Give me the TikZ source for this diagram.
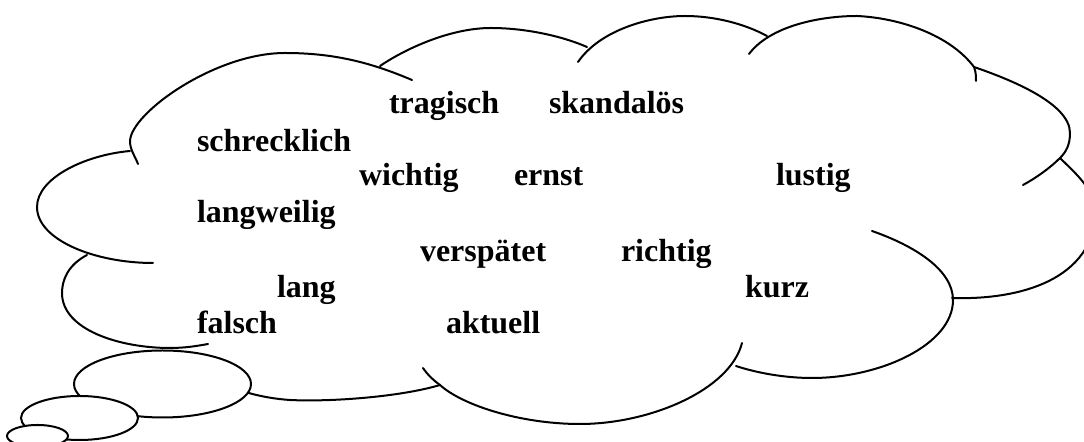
\documentclass[tikz,border=0pt]{standalone}
\usepackage{fontspec}
\setmainfont{Liberation Serif}
\usepackage{tikz}

\begin{document}
\begin{tikzpicture}[x=0.5pt, y=-0.5pt,
  every node/.style={font=\bfseries\fontsize{16}{19}\selectfont, inner sep=0pt, outer sep=0pt, anchor=base west},
  lobe/.style={line width=1pt, line cap=round},
  bubble/.style={line width=1pt, fill=white}]
\useasboundingbox (0,0) rectangle (1084,442);
\clip (0,0) rectangle (1084,442);

% cloud outline, lobe by lobe
\draw[lobe] (138,164) .. controls (135,156) and (130,150) .. (130,141) .. controls (131,113) and (215,53) .. (285,53) .. controls (335,53) and (372,63) .. (412,80);
\draw[lobe] (380,66) .. controls (405,49) and (450,28) .. (491,28) .. controls (525,28) and (562,36) .. (587,47);
\draw[lobe] (578,62) .. controls (600,30) and (650,16) .. (685,16) .. controls (715,16) and (745,24) .. (767,36);
\draw[lobe] (749,54) .. controls (770,26) and (820,16) .. (857,16) .. controls (900,18) and (950,35) .. (974,67) .. controls (976,72) and (976,77) .. (976,81);
\draw[lobe] (974,67) .. controls (1009,79) and (1070,103) .. (1070,133) .. controls (1070,145) and (1066,152) .. (1060,158) .. controls (1050,168) and (1036,178) .. (1023,185);
\draw[lobe] (1060,158) .. controls (1075,173) and (1096,190) .. (1096,215) .. controls (1090,285) and (1010,300) .. (952,298);
\draw[lobe] (872,231) .. controls (915,246) and (953,270) .. (953,300) .. controls (953,345) and (880,378) .. (812,378) .. controls (785,378) and (757,373) .. (736,366);
\draw[lobe] (742,343) .. controls (730,390) and (650,424) .. (580,424) .. controls (520,424) and (462,405) .. (440,385) .. controls (433,380) and (427,374) .. (423,368);
\draw[lobe] (440,385) .. controls (400,397) and (330,402) .. (290,400) .. controls (260,398) and (235,390) .. (215,380);
\draw[lobe] (87,255) .. controls (68,265) and (62,280) .. (62,293) .. controls (62,330) and (120,348) .. (170,348) .. controls (185,348) and (197,346) .. (208,344);
\draw[lobe] (130,151) .. controls (85,155) and (37,178) .. (37,207) .. controls (37,240) and (95,263) .. (153,263);

% thought bubbles
\draw[bubble] (162.5,384) ellipse [x radius=88.5, y radius=33.5];
\draw[bubble] (79.5,418) ellipse [x radius=58.5, y radius=22];
\draw[bubble] (37.5,436) ellipse [x radius=30.5, y radius=11];

% words
\node (tragisch) at (389,114) {tragisch};
\node (skandaloes) at (549,114) {skandalös};
\node (schrecklich) at (197,152) {schrecklich};
\node (wichtig) at (359,186) {wichtig};
\node (ernst) at (514,186) {ernst};
\node (lustig) at (776,186) {lustig};
\node (langweilig) at (197,223) {langweilig};
\node (verspaetet) at (420,262) {verspätet};
\node (richtig) at (621,262) {richtig};
\node (lang) at (277,298) {lang};
\node (kurz) at (745,298) {kurz};
\node (falsch) at (197,334) {falsch};
\node (aktuell) at (446,334) {aktuell};
\end{tikzpicture}
\end{document}
